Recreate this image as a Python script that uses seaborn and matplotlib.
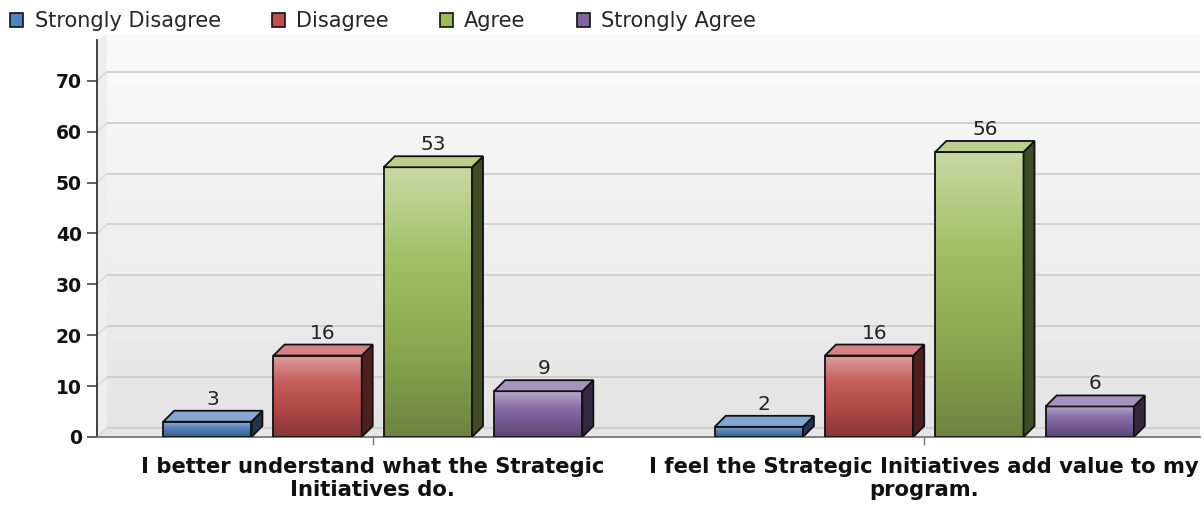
import matplotlib
matplotlib.use("Agg")
import matplotlib.pyplot as plt
import numpy as np
import pandas as pd
import seaborn as sns
from matplotlib.patches import Polygon, Patch
from matplotlib.colors import LinearSegmentedColormap, to_rgb

# survey answers per question
questions = ["I better understand what the Strategic\nInitiatives do.",
             "I feel the Strategic Initiatives add value to my\nprogram."]
responses = ["Strongly Disagree", "Disagree", "Agree", "Strongly Agree"]
strongly_disagree = [3, 2]
disagree = [16, 16]
agree = [53, 56]
strongly_agree = [9, 6]
colors = ["#4f81bd", "#c0504d", "#9bbb59", "#8064a2"]

counts = [strongly_disagree, disagree, agree, strongly_agree]
rows = []
for resp, vals in zip(responses, counts):
    for q, v in zip(questions, vals):
        rows.append({"Question": q, "Response": resp, "Count": v})
df = pd.DataFrame(rows)

sns.set_style("white")
plt.rcParams["font.family"] = ["DejaVu Sans"]

W, H = 1204, 507
fig = plt.figure(figsize=(W / 100, H / 100), dpi=100)
ax = fig.add_axes([97 / W, 70 / H, 1103 / W, 397 / H])

sns.barplot(data=df, x="Question", y="Count", hue="Response", palette=colors,
            width=0.8, gap=0.2, saturation=1, ax=ax, legend=False)

xmin, xmax, ymin, ymax = -0.5, 1.5, 0, 78
ax.set_xlim(xmin, xmax)
ax.set_ylim(ymin, ymax)

# pixel -> data scale for the fake 3D depth
px_x = (xmax - xmin) / 1103
px_y = (ymax - ymin) / 397
ddx, ddy = 11 * px_x, 11 * px_y     # bar depth
wdx, wdy = 10 * px_x, 9 * px_y      # back wall offset


def mix(c, other, t):
    c, o = np.array(to_rgb(c)), np.array(to_rgb(other))
    return tuple(c * (1 - t) + o * t)


# back wall with vertical gradient
wall = LinearSegmentedColormap.from_list("wall", ["#e4e4e4", "#fbfbfb"])
ax.imshow(np.linspace(0, 1, 256).reshape(-1, 1), cmap=wall, origin="lower",
          extent=[xmin + wdx, xmax, wdy, ymax + 6 * px_y], aspect="auto",
          zorder=0, clip_on=False)
ax.add_patch(Polygon([(xmin, 0), (xmin + wdx, wdy), (xmin + wdx, ymax + 6 * px_y), (xmin, ymax)],
                     closed=True, facecolor="#eeeeee", edgecolor="none", zorder=0.5, clip_on=False))
ax.add_patch(Polygon([(xmin, 0), (xmax, 0), (xmax, wdy), (xmin + wdx, wdy)],
                     closed=True, facecolor="#e6e6e6", edgecolor="none", zorder=0.5))
for yv in range(0, 80, 10):
    ax.plot([xmin + wdx, xmax], [yv + wdy, yv + wdy], color="#cdcdcd", lw=1.3, zorder=0.6)
    ax.plot([xmin, xmin + wdx], [yv, yv + wdy], color="#d8d8d8", lw=1.0, zorder=0.6)

# turn flat bars into 3D boxes
bars = list(ax.patches)[:len(responses) * len(questions)]
for p in bars:
    base = p.get_facecolor()[:3]
    x0, w, h = p.get_x(), p.get_width(), p.get_height()
    cmap = LinearSegmentedColormap.from_list(
        "g", [mix(base, "black", 0.3), mix(base, "black", 0.1), mix(base, "white", 0.08),
              mix(base, "white", 0.45)])
    ax.imshow(np.linspace(0, 1, 256).reshape(-1, 1), cmap=cmap, origin="lower",
              extent=[x0, x0 + w, 0, h], aspect="auto", zorder=2)
    p.set_facecolor("none")
    p.set_edgecolor("#111111")
    p.set_linewidth(1.3)
    p.set_zorder(3)
    side = Polygon([(x0 + w, 0), (x0 + w + ddx, ddy), (x0 + w + ddx, h + ddy), (x0 + w, h)],
                   closed=True, facecolor=mix(base, "black", 0.6), edgecolor="#111111", lw=1.3, zorder=3)
    top = Polygon([(x0, h), (x0 + w, h), (x0 + w + ddx, h + ddy), (x0 + ddx, h + ddy)],
                  closed=True, facecolor=mix(base, "white", 0.3), edgecolor="#111111", lw=1.3, zorder=3)
    ax.add_patch(side)
    ax.add_patch(top)
    ax.text(x0 + w / 2 + ddx / 2, h + ddy + 2 * px_y, f"{int(h)}", ha="center", va="bottom",
            fontsize=14.5, color="#222222", zorder=4)

ax.set_xlim(xmin, xmax)
ax.set_ylim(ymin, ymax)
ax.set_xlabel("")
ax.set_ylabel("")
ax.set_yticks(range(0, 80, 10))
for s in ["top", "right"]:
    ax.spines[s].set_visible(False)
ax.spines["left"].set_color("#333333")
ax.spines["left"].set_linewidth(1.3)
ax.spines["bottom"].set_color("#777777")
ax.spines["bottom"].set_linewidth(1.3)
ax.tick_params(axis="y", direction="out", length=7, width=1.2, color="#444444",
               labelsize=13.5, pad=4, left=True)
ax.tick_params(axis="x", direction="out", length=6, width=1.0, color="#777777",
               labelsize=15.2, pad=8.5, bottom=True)
for lab in ax.get_yticklabels() + ax.get_xticklabels():
    lab.set_fontweight("bold")
    lab.set_color("#111111")
for lab in ax.get_xticklabels():
    lab.set_linespacing(1.15)
ax.grid(False)

handles = [Patch(facecolor=c, edgecolor="#111111", linewidth=1.2) for c in colors]
fig.legend(handles, responses, loc="upper left", bbox_to_anchor=(-0.007, 1.015), ncol=4,
           frameon=False, fontsize=15, handlelength=0.62, handleheight=0.62,
           handletextpad=0.55, columnspacing=2.45)

fig.savefig("out.png", dpi=100)
